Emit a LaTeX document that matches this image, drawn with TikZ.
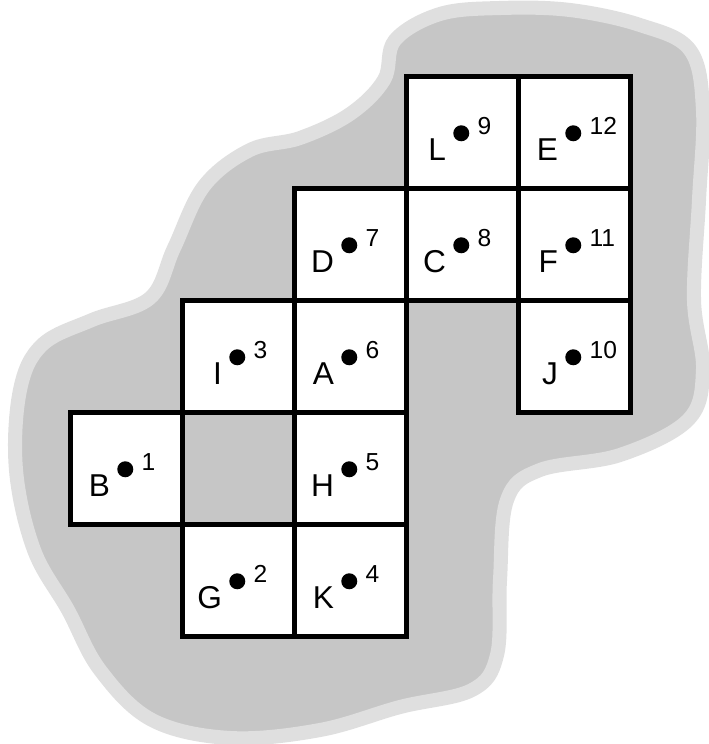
\documentclass[tikz,border=0pt]{standalone}
\usepackage{fontspec}
\setmainfont{Liberation Sans}
\usetikzlibrary{calc}
\begin{document}
\begin{tikzpicture}[x=0.02cm,y=-0.02cm,
  cellbox/.style={draw,line width=2.6pt,fill=white,minimum size=2.24cm,inner sep=0pt,anchor=north west},
  pin/.style={circle,fill=black,inner sep=0pt,minimum size=0.32cm},
  letter/.style={font=\fontsize{18}{18}\selectfont,inner sep=0pt,anchor=base east},
  num/.style={font=\fontsize{14}{14}\selectfont,inner sep=0pt,anchor=base west}]
\def\xO{68};
\def\yO{74};
\def\cs{112};
\useasboundingbox (0,0) rectangle (709,744);
\coordinate (O) at (\xO,\yO);
\draw[line width=8pt,line join=round,gray!25,fill=gray!45] plot[smooth cycle,tension=0.6] coordinates {
  (395,40) (440,14) (500,8) (570,10) (640,25) (690,50) (703,110) (699,200) (694,300) (703,370)
  (688,420) (620,455) (540,470) (507,500) (500,580) (497,655) (472,690) (400,707) (320,730)
  (230,738) (152,720) (100,670) (68,610) (34,550) (16,470) (20,390) (42,345) (92,320) (150,298)
  (174,248) (204,186) (250,150) (300,138) (350,114) (384,80)};
\foreach \c/\r/\n/\k in {3/0/L/9,4/0/E/12,2/1/D/7,3/1/C/8,4/1/F/11,1/2/I/3,2/2/A/6,4/2/J/10,0/3/B/1,2/3/H/5,1/4/G/2,2/4/K/4}{
  \node[cellbox] (cell\n) at ($(O)+(\c*\cs,\r*\cs)$) {};
  \node[pin] (dot\n) at ($(cell\n.center)+(-1,1)$) {};
  \node[letter] (let\n) at ($(cell\n.center)+(-16,28)$) {\n};
  \node[num] (num\n) at ($(cell\n.center)+(15,2)$) {\k};
}
\end{tikzpicture}
\end{document}
